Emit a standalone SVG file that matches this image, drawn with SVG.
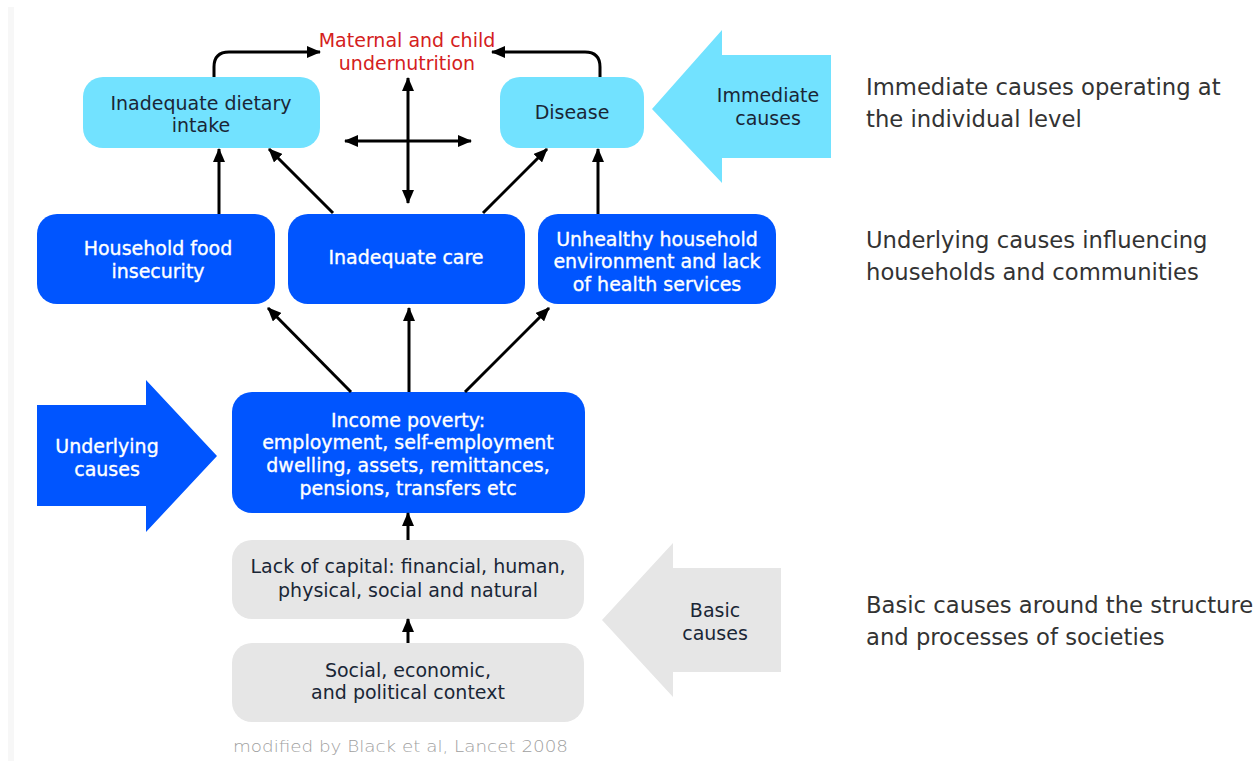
<svg xmlns="http://www.w3.org/2000/svg" width="1257" height="761" viewBox="0 0 1257 761">
<defs>
<marker id="ah" markerUnits="userSpaceOnUse" markerWidth="14" markerHeight="12" viewBox="0 0 14 12" refX="13" refY="6" orient="auto-start-reverse">
<path d="M0,0 L14,6 L0,12 Z" fill="#000"/>
</marker>
<style>
.t{font-family:"DejaVu Sans",Verdana,sans-serif;font-size:19px;text-anchor:middle}
.dk{fill:#1a2636}
.wh{fill:#fff;stroke:#fff;stroke-width:0.35}
.side{font-family:"DejaVu Sans",Verdana,sans-serif;font-size:22.7px;fill:#333}
.cyan{fill:#72e2ff}
.blue{fill:#0055ff}
.gray{fill:#e6e6e6}
.con{fill:none;stroke:#000;stroke-width:3}
</style>
</defs>
<rect x="0" y="0" width="1257" height="761" fill="#fff"/>
<rect x="8" y="7" width="6" height="754" fill="#f7f7f7"/>

<g id="title">
<text class="t" x="407" y="47" fill="#d42020">Maternal and child</text>
<text class="t" x="407" y="70" fill="#d42020">undernutrition</text>
</g>

<g id="immediate-arrow">
<polygon class="cyan" points="652,109 722,30 722,55 831,55 831,158 722,158 722,183"/>
<text class="t dk" x="768" y="102">Immediate</text>
<text class="t dk" x="768" y="125">causes</text>
</g>

<g id="underlying-arrow">
<polygon class="blue" points="37,405 146,405 146,380 217,456 146,532 146,506 37,506"/>
<text class="t wh" x="107" y="453">Underlying</text>
<text class="t wh" x="107" y="476">causes</text>
</g>

<g id="basic-arrow">
<polygon class="gray" points="602,620 673,543 673,568 781,568 781,672 673,672 673,697"/>
<text class="t dk" x="715" y="617">Basic</text>
<text class="t dk" x="715" y="640">causes</text>
</g>

<g id="dietary">
<rect class="cyan" x="83" y="77" width="237" height="71" rx="20"/>
<text class="t dk" x="201" y="110">Inadequate dietary</text>
<text class="t dk" x="201" y="132">intake</text>
</g>

<g id="disease">
<rect class="cyan" x="500" y="77" width="144" height="71" rx="20"/>
<text class="t dk" x="572" y="119">Disease</text>
</g>

<g id="household">
<rect class="blue" x="37" y="214" width="238" height="90" rx="20"/>
<text class="t wh" x="158" y="255">Household food</text>
<text class="t wh" x="158" y="278">insecurity</text>
</g>

<g id="care">
<rect class="blue" x="288" y="214" width="237" height="90" rx="20"/>
<text class="t wh" x="406" y="264">Inadequate care</text>
</g>

<g id="unhealthy">
<rect class="blue" x="538" y="214" width="238" height="90" rx="20"/>
<text class="t wh" x="657" y="246">Unhealthy household</text>
<text class="t wh" x="657" y="268">environment and lack</text>
<text class="t wh" x="657" y="291">of health services</text>
</g>

<g id="income">
<rect class="blue" x="232" y="392" width="353" height="121" rx="20"/>
<text class="t wh" x="408" y="427">Income poverty:</text>
<text class="t wh" x="408" y="449">employment, self-employment</text>
<text class="t wh" x="408" y="472">dwelling, assets, remittances,</text>
<text class="t wh" x="408" y="495">pensions, transfers etc</text>
</g>

<g id="capital">
<rect class="gray" x="232" y="540" width="352" height="79" rx="20"/>
<text class="t dk" x="408" y="573">Lack of capital: financial, human,</text>
<text class="t dk" x="408" y="597">physical, social and natural</text>
</g>

<g id="context">
<rect class="gray" x="232" y="643" width="352" height="79" rx="20"/>
<text class="t dk" x="408" y="677">Social, economic,</text>
<text class="t dk" x="408" y="699">and political context</text>
</g>

<g id="connectors">
<path class="con" marker-end="url(#ah)" d="M214,77 V67 Q214,52 229,52 H320"/>
<path class="con" marker-end="url(#ah)" d="M600,77 V67 Q600,52 585,52 H492"/>
<path class="con" marker-start="url(#ah)" marker-end="url(#ah)" d="M408,78 V203"/>
<path class="con" marker-start="url(#ah)" marker-end="url(#ah)" d="M345,141 H471"/>
<path class="con" marker-end="url(#ah)" d="M219,214 V149"/>
<path class="con" marker-end="url(#ah)" d="M333,213 L269,149"/>
<path class="con" marker-end="url(#ah)" d="M483,213 L547,149"/>
<path class="con" marker-end="url(#ah)" d="M598,214 V149"/>
<path class="con" marker-end="url(#ah)" d="M351,392 L268,308"/>
<path class="con" marker-end="url(#ah)" d="M409,392 V308"/>
<path class="con" marker-end="url(#ah)" d="M465,392 L549,308"/>
<path class="con" marker-end="url(#ah)" d="M408,540 V513"/>
<path class="con" marker-end="url(#ah)" d="M408,643 V619"/>
</g>

<g id="side-labels">
<text class="side" x="866" y="95">Immediate causes operating at</text>
<text class="side" x="866" y="127">the individual level</text>
<text class="side" x="866" y="248">Underlying causes influencing</text>
<text class="side" x="866" y="280">households and communities</text>
<text class="side" x="866" y="613">Basic causes around the structure</text>
<text class="side" x="866" y="645">and processes of societies</text>
</g>

<text x="233" y="752" font-family="'DejaVu Sans',sans-serif" font-weight="200" font-size="16" fill="#a0a0a0" textLength="335" lengthAdjust="spacingAndGlyphs">modified by Black et al, Lancet 2008</text>
</svg>
